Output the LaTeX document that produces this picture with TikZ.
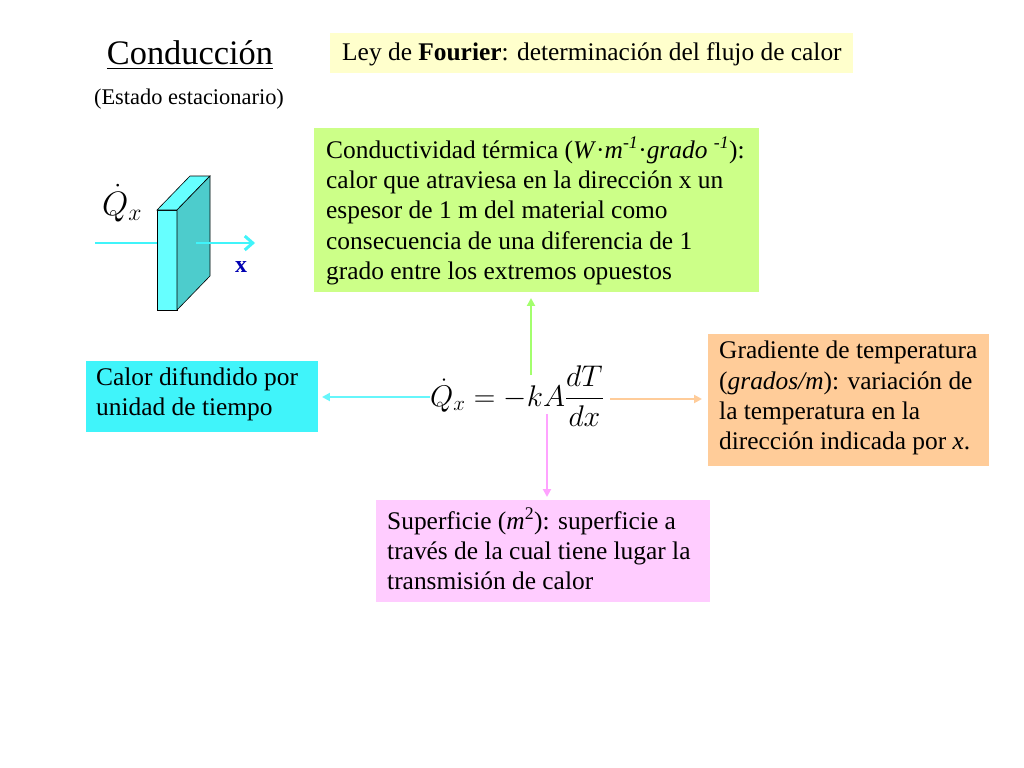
\RequirePackage{fix-cm}
\documentclass[tikz,border=0pt]{standalone}
\usepackage{amsmath}
\usepackage{fontspec}
\setmainfont{Liberation Serif}
\usetikzlibrary{arrows.meta}
\definecolor{cgreen}{HTML}{CCFF88}
\definecolor{cyanb}{HTML}{40F4FA}
\definecolor{corange}{HTML}{FFCC99}
\definecolor{cpink}{HTML}{FFCCFF}
\definecolor{cyell}{HTML}{FFFFCC}
\definecolor{slabf}{HTML}{66FFFF}
\definecolor{slabs}{HTML}{4DCCCC}
\tikzset{
 txt/.style={font=\fontsize{25.5}{30.5}\selectfont, align=left, inner sep=0pt, anchor=north west},
 conn/.style={line width=2pt, -{Triangle[length=8pt,width=8pt]}},
}
\begin{document}
\begin{tikzpicture}[x=1bp,y=-1bp]
\useasboundingbox (0,0) rectangle (1024,768);
\fill[white] (0,0) rectangle (1024,768);
% title
\node (title) at (190,55) {\fontsize{34.5}{38}\selectfont\underline{Conducción}};
\node (estado) at (189,99) {\fontsize{22.5}{24}\selectfont (Estado estacionario)};
\fill[cyell] (330,33) rectangle (853,73);
\node[txt,anchor=west] (four) at (342,54) {Ley de \textbf{Fourier}: determinación del flujo de calor};
% slab
\draw[cyanb, line width=3pt] (95,243) -- (157,243);
\draw[line width=0.6pt, fill=slabf] (157,210) rectangle (177,310);
\draw[line width=0.6pt, fill=slabf] (157,210) -- (190,176) -- (210,176) -- (177,210) -- cycle;
\draw[line width=0.6pt, fill=slabs] (177,210) -- (210,176) -- (210,276) -- (177,310) -- cycle;
\draw[cyanb, line width=3pt, -{Straight Barb[length=8pt,width=14pt]}] (196,243) -- (255,243);
\node[text=blue!70!black] (xl) at (241,267) {\fontsize{24}{26}\selectfont\textbf{x}};
\node (qdot) at (122,203) {\fontsize{34}{36}\selectfont$\dot{Q}_{x}$};
% boxes
\fill[cgreen] (314,128) rectangle (759,292);
\node[txt] (green) at (326,137) {Conductividad térmica (\textit{W}·\textit{m}\textsuperscript{\textit{-1}}·\textit{grado} \textsuperscript{\textit{-1}}):\\calor que atraviesa en la dirección x un\\espesor de 1 m del material como\\consecuencia de una diferencia de 1\\grado entre los extremos opuestos};
\fill[cyanb] (86,361) rectangle (318,432);
\node[txt] (cyan) at (96,367) {Calor difundido por\\unidad de tiempo};
\fill[corange] (708,334) rectangle (989,466);
\node[txt] (orange) at (719,341) {Gradiente de temperatura\\(\textit{grados/m}): variación de\\la temperatura en la\\dirección indicada por \textit{x}.};
\fill[cpink] (376,500) rectangle (710,602);
\node[txt] (pink) at (387,508) {Superficie (\textit{m}\textsuperscript{2}): superficie a\\través de la cual tiene lugar la\\transmisión de calor};
% equation
\node (eq) at (517,396) {\fontsize{30}{32}\selectfont$\dot{Q}_{x}=-kA\dfrac{dT}{dx}$};
\coordinate (gs) at (531,375); \coordinate (ge) at (531,298);
\coordinate (cs) at (430,397); \coordinate (ce) at (322,397);
\coordinate (os) at (610,399); \coordinate (oe) at (702,399);
\coordinate (ps) at (547,414); \coordinate (pe) at (547,497);
\draw[conn, color=cgreen!80!green] (gs) -- (ge);
\draw[conn, color=cyanb!80] (cs) -- (ce);
\draw[conn, color=corange] (os) -- (oe);
\draw[conn, color=cpink!80!magenta] (ps) -- (pe);
\end{tikzpicture}
\end{document}
